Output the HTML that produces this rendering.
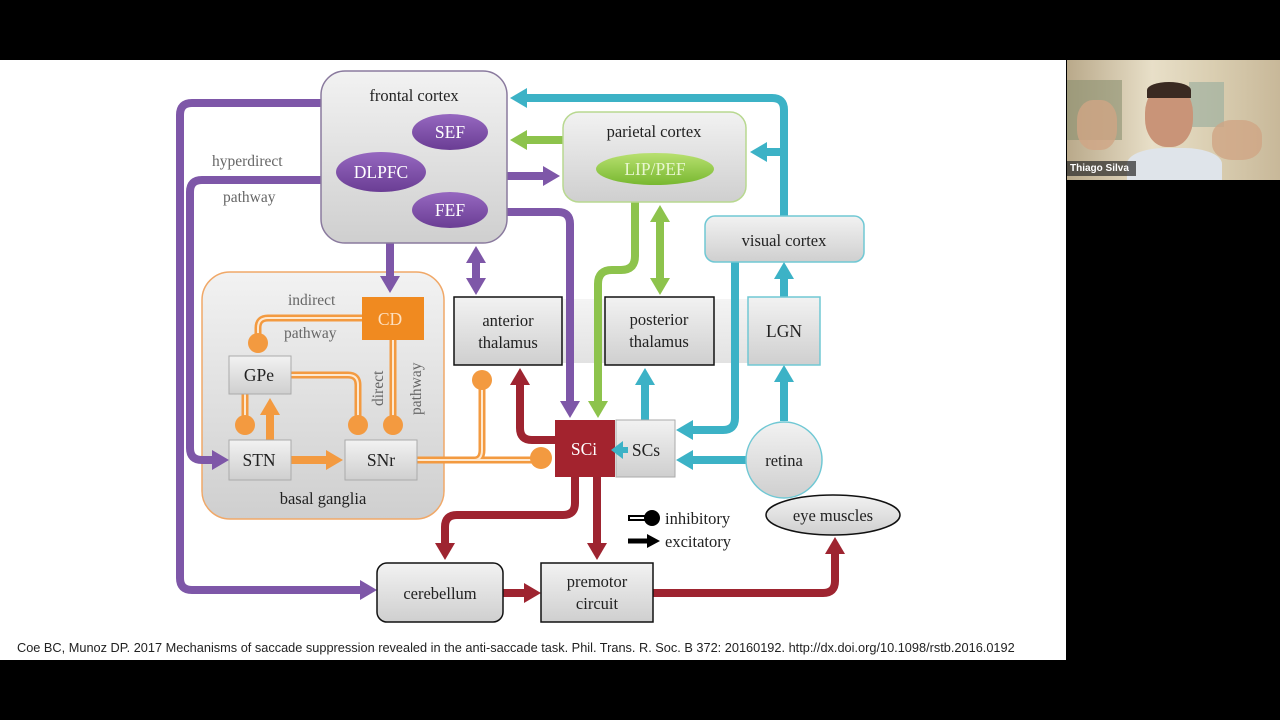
<!DOCTYPE html>
<html><head><meta charset="utf-8"><style>
body{margin:0;background:#000;width:1280px;height:720px;overflow:hidden;position:relative;font-family:"Liberation Serif",serif}
#slide{position:absolute;left:0;top:60px;width:1066px;height:600px;background:#fff}
#cam{position:absolute;left:1067px;top:60px;width:213px;height:120px;background:linear-gradient(90deg,#b9a98a,#e8dfc8 40%,#d9cdb0 70%,#c8b899);overflow:hidden}
#cite{position:absolute;left:17px;top:640px;font:12.75px "Liberation Sans",sans-serif;color:#222;white-space:nowrap}
</style></head><body>
<div id="slide"></div>
<div id="cam">
 <div style="position:absolute;left:0;top:20px;width:55px;height:60px;background:#8a8f70;opacity:.6"></div>
 <div style="position:absolute;left:122px;top:22px;width:35px;height:45px;background:#9fb0a0;opacity:.7"></div>
 <div style="position:absolute;left:78px;top:25px;width:48px;height:62px;border-radius:45%;background:#c99478"></div>
 <div style="position:absolute;left:80px;top:22px;width:44px;height:16px;border-radius:50% 50% 0 0;background:#3a2a22"></div>
 <div style="position:absolute;left:60px;top:88px;width:95px;height:40px;border-radius:40% 40% 0 0;background:#dfe4ea"></div>
 <div style="position:absolute;left:10px;top:40px;width:40px;height:50px;border-radius:40%;background:#d0a585;opacity:.8"></div>
 <div style="position:absolute;left:145px;top:60px;width:50px;height:40px;border-radius:40%;background:#d0a585;opacity:.8"></div>
 <div style="position:absolute;left:0;top:101px;width:66px;height:15px;background:rgba(40,40,40,.7);color:#fff;font:bold 10px 'Liberation Sans',sans-serif;line-height:15px;padding-left:3px">Thiago Silva</div>
</div>
<div id="cite">Coe BC, Munoz DP. 2017 Mechanisms of saccade suppression revealed in the anti-saccade task. Phil. Trans. R. Soc. B 372: 20160192. http://dx.doi.org/10.1098/rstb.2016.0192</div>
<svg width="1280" height="720" style="position:absolute;left:0;top:0" font-family="Liberation Serif, serif">
<defs>
 <linearGradient id="g" x1="0" y1="0" x2="0" y2="1"><stop offset="0" stop-color="#f2f2f2"/><stop offset="1" stop-color="#cfcfcf"/></linearGradient>
 <linearGradient id="gb" x1="0" y1="0" x2="0" y2="1"><stop offset="0" stop-color="#f4f4f4"/><stop offset="1" stop-color="#e2e2e2"/></linearGradient>
 <linearGradient id="gp" x1="0" y1="0" x2="0" y2="1"><stop offset="0" stop-color="#9668c0"/><stop offset="1" stop-color="#6a3d94"/></linearGradient>
 <linearGradient id="gg" x1="0" y1="0" x2="0" y2="1"><stop offset="0" stop-color="#b8e070"/><stop offset="1" stop-color="#78b830"/></linearGradient>
 <marker id="mp" markerUnits="userSpaceOnUse" markerWidth="22" markerHeight="22" refX="0" refY="10" orient="auto-start-reverse"><path d="M0,0L17,10L0,20z" fill="#7e57a8"/></marker>
 <marker id="mt" markerUnits="userSpaceOnUse" markerWidth="22" markerHeight="22" refX="0" refY="10" orient="auto-start-reverse"><path d="M0,0L17,10L0,20z" fill="#3cb2c6"/></marker>
 <marker id="mg" markerUnits="userSpaceOnUse" markerWidth="22" markerHeight="22" refX="0" refY="10" orient="auto-start-reverse"><path d="M0,0L17,10L0,20z" fill="#8dc34c"/></marker>
 <marker id="mr" markerUnits="userSpaceOnUse" markerWidth="22" markerHeight="22" refX="0" refY="10" orient="auto-start-reverse"><path d="M0,0L17,10L0,20z" fill="#9e2430"/></marker>
 <marker id="mo" markerUnits="userSpaceOnUse" markerWidth="22" markerHeight="22" refX="0" refY="10" orient="auto-start-reverse"><path d="M0,0L17,10L0,20z" fill="#f39a40"/></marker>
 <marker id="mk" markerUnits="userSpaceOnUse" markerWidth="20" markerHeight="20" refX="0" refY="7" orient="auto"><path d="M0,0L13,7L0,14z" fill="#000"/></marker>
</defs>
<rect x="454" y="299" width="366" height="64" fill="url(#gb)"/>
<rect x="202" y="272" width="242" height="247" rx="28" fill="url(#g)" stroke="#f0a868" stroke-width="1.5"/>
<g fill="none" stroke-width="8">
 <path d="M321,103H192Q180,103 180,115V578Q180,590 192,590H360" stroke="#7e57a8" marker-end="url(#mp)"/>
 <path d="M321,180H202Q190,180 190,192V448Q190,460 202,460H212" stroke="#7e57a8" marker-end="url(#mp)"/>
 <path d="M390,243V276" stroke="#7e57a8" marker-end="url(#mp)"/>
 <path d="M476,263V278" stroke="#7e57a8" marker-start="url(#mp)" marker-end="url(#mp)"/>
 <path d="M507,176H543" stroke="#7e57a8" marker-end="url(#mp)"/>
 <path d="M507,212H558Q570,212 570,224V401" stroke="#7e57a8" marker-end="url(#mp)"/>
 <path d="M784,216V110Q784,98 772,98H527" stroke="#3cb2c6" marker-end="url(#mt)"/>
 <path d="M784,152H767" stroke="#3cb2c6" marker-end="url(#mt)"/>
 <path d="M784,297V279" stroke="#3cb2c6" marker-end="url(#mt)"/>
 <path d="M784,421V382" stroke="#3cb2c6" marker-end="url(#mt)"/>
 <path d="M735,262V418Q735,430 723,430H693" stroke="#3cb2c6" marker-end="url(#mt)"/>
 <path d="M746,460H693" stroke="#3cb2c6" marker-end="url(#mt)"/>
 <path d="M645,420V385" stroke="#3cb2c6" marker-end="url(#mt)"/>
 <path d="M563,140H527" stroke="#8dc34c" marker-end="url(#mg)"/>
 <path d="M635,202V256Q635,270 621,270H612Q598,270 598,284V401" stroke="#8dc34c" marker-end="url(#mg)"/>
 <path d="M660,222V278" stroke="#8dc34c" marker-start="url(#mg)" marker-end="url(#mg)"/>
 <path d="M556,440H532Q520,440 520,428V385" stroke="#9e2430" marker-end="url(#mr)"/>
 <path d="M575,476V503Q575,515 563,515H457Q445,515 445,527V543" stroke="#9e2430" marker-end="url(#mr)"/>
 <path d="M597,476V543" stroke="#9e2430" marker-end="url(#mr)"/>
 <path d="M503,593H524" stroke="#9e2430" marker-end="url(#mr)"/>
 <path d="M653,593H823Q835,593 835,581V554" stroke="#9e2430" marker-end="url(#mr)"/>
 <path d="M270,440V415" stroke="#f39a40" marker-end="url(#mo)"/>
 <path d="M291,460H326" stroke="#f39a40" marker-end="url(#mo)"/>
</g>
<g fill="none" stroke="#f39a40" stroke-width="7">
 <path d="M362,318H268Q258,318 258,328V343"/>
 <path d="M393,340V425"/>
 <path d="M291,375H348Q358,375 358,385V425"/>
 <path d="M245,394V425"/>
 <path d="M417,460H541"/>
 <path d="M474,460Q482,460 482,450V380"/>
</g>
<g fill="none" stroke="#fde8d0" stroke-width="2">
 <path d="M362,318H268Q258,318 258,328V343"/>
 <path d="M393,340V425"/>
 <path d="M291,375H348Q358,375 358,385V425"/>
 <path d="M245,394V425"/>
 <path d="M417,460H541"/>
 <path d="M474,460Q482,460 482,450V380"/>
</g>
<g fill="#f39a40">
 <circle cx="258" cy="343" r="10"/><circle cx="393" cy="425" r="10"/><circle cx="358" cy="425" r="10"/>
 <circle cx="245" cy="425" r="10"/><circle cx="541" cy="458" r="11"/><circle cx="482" cy="380" r="10"/>
</g>
<rect x="321" y="71" width="186" height="172" rx="24" fill="url(#g)" stroke="#8a7a9e" stroke-width="1.5"/>
<ellipse cx="450" cy="132" rx="38" ry="18" fill="url(#gp)"/>
<ellipse cx="381" cy="172" rx="45" ry="20" fill="url(#gp)"/>
<ellipse cx="450" cy="210" rx="38" ry="18" fill="url(#gp)"/>
<rect x="563" y="112" width="183" height="90" rx="16" fill="url(#g)" stroke="#b8d890" stroke-width="1.5"/>
<ellipse cx="655" cy="169" rx="59" ry="16" fill="url(#gg)"/>
<rect x="705" y="216" width="159" height="46" rx="10" fill="url(#g)" stroke="#70c8d4" stroke-width="1.5"/>
<rect x="748" y="297" width="72" height="68" fill="url(#g)" stroke="#70c8d4" stroke-width="1.5"/>
<rect x="454" y="297" width="108" height="68" fill="url(#g)" stroke="#111" stroke-width="1.5"/>
<rect x="605" y="297" width="109" height="68" fill="url(#g)" stroke="#111" stroke-width="1.5"/>
<circle cx="784" cy="460" r="38" fill="url(#g)" stroke="#70c8d4" stroke-width="1.5"/>
<rect x="616" y="420" width="59" height="57" fill="url(#g)" stroke="#aaa"/>
<rect x="555" y="420" width="60" height="57" fill="#a3232e"/>
<path d="M628,450H620" stroke="#3cb2c6" stroke-width="6"/><path d="M611,450L623,441L623,459z" fill="#3cb2c6"/>
<ellipse cx="833" cy="515" rx="67" ry="20" fill="url(#g)" stroke="#111" stroke-width="1.5"/>
<rect x="377" y="563" width="126" height="59" rx="10" fill="url(#g)" stroke="#111" stroke-width="1.5"/>
<rect x="541" y="563" width="112" height="59" fill="url(#g)" stroke="#111" stroke-width="1.5"/>
<rect x="362" y="297" width="62" height="43" fill="#f08a20"/>
<rect x="229" y="356" width="62" height="38" fill="url(#g)" stroke="#aaa"/>
<rect x="229" y="440" width="62" height="40" fill="url(#g)" stroke="#aaa"/>
<rect x="345" y="440" width="72" height="40" fill="url(#g)" stroke="#aaa"/>
<path d="M628,518H648" stroke="#000" stroke-width="6"/><path d="M630,518H648" stroke="#fff" stroke-width="2"/>
<circle cx="652" cy="518" r="8" fill="#000"/>
<path d="M628,541H647" stroke="#000" stroke-width="5" marker-end="url(#mk)"/>
<g font-size="16.5" fill="#222" text-anchor="middle">
 <text x="414" y="101">frontal cortex</text>
 <text x="654" y="137">parietal cortex</text>
 <text x="784" y="246">visual cortex</text>
 <text x="784" y="337" font-size="17.5">LGN</text>
 <text x="508" y="326">anterior</text><text x="508" y="348">thalamus</text>
 <text x="659" y="325">posterior</text><text x="659" y="347">thalamus</text>
 <text x="784" y="466">retina</text>
 <text x="646" y="456" font-size="17.5">SCs</text>
 <text x="833" y="521">eye muscles</text>
 <text x="440" y="599">cerebellum</text>
 <text x="597" y="587">premotor</text><text x="597" y="609">circuit</text>
 <text x="259" y="381" font-size="17.5">GPe</text>
 <text x="259" y="466" font-size="17.5">STN</text>
 <text x="381" y="466" font-size="17.5">SNr</text>
 <text x="323" y="504">basal ganglia</text>
</g>
<g font-size="17.5" fill="#fff" text-anchor="middle">
 <text x="450" y="138">SEF</text><text x="381" y="178">DLPFC</text><text x="450" y="216">FEF</text>
 <text x="655" y="175" fill="#e8f6d0">LIP/PEF</text>
 <text x="584" y="455">SCi</text>
 <text x="390" y="325" fill="#fde0c0">CD</text>
</g>
<g font-size="15.5" fill="#666">
 <text x="212" y="166">hyperdirect</text><text x="223" y="202">pathway</text>
 <text x="288" y="305">indirect</text><text x="284" y="338">pathway</text>
 <text transform="translate(383,406) rotate(-90)">direct</text>
 <text transform="translate(421,415) rotate(-90)">pathway</text>
</g>
<g font-size="16.5" fill="#222"><text x="665" y="524">inhibitory</text><text x="665" y="547">excitatory</text></g>
</svg>
</body></html>
